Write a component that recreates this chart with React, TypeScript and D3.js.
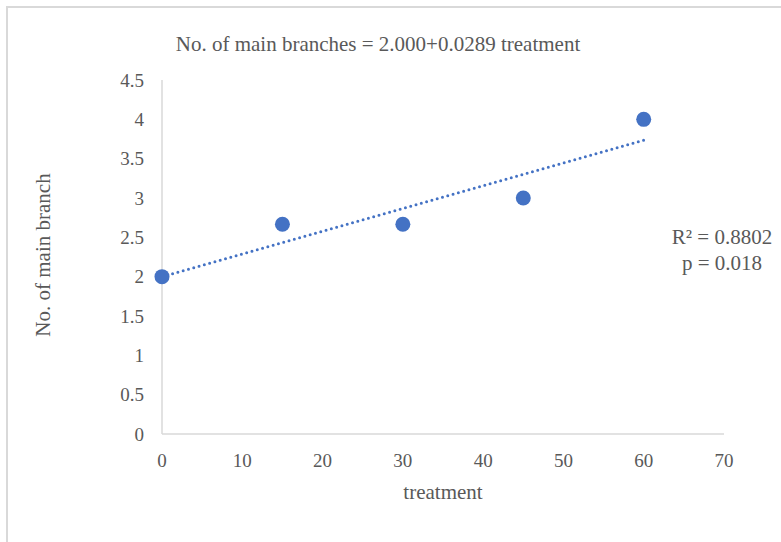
import React from "react";
import * as d3 from "d3";

const treatment = [0, 15, 30, 45, 60];
const branches = [2, 2.667, 2.667, 3, 4];
const yTicks = [0, 0.5, 1, 1.5, 2, 2.5, 3, 3.5, 4, 4.5];
const xTicks = [0, 10, 20, 30, 40, 50, 60, 70];
const intercept = 2.0;
const slope = 0.0289;

export default function App() {
  const W = 781, H = 542;
  const x = d3.scaleLinear().domain([0, 70]).range([162, 724]);
  const y = d3.scaleLinear().domain([0, 4.5]).range([434, 80]);
  const font = "'Liberation Serif', 'Times New Roman', serif";
  const txt = "#595959";
  const line = d3.line<number>().x(d => x(d)).y(d => y(intercept + slope * d));
  return (
    <svg width={W} height={H} style={{ position: "absolute", left: 0, top: 0 }}>
      <rect x={0} y={0} width={W} height={H} fill="#fff" />
      <line x1={6} y1={7} x2={W} y2={7} stroke="#d9d9d9" strokeWidth={2} />
      <line x1={7} y1={6} x2={7} y2={H} stroke="#d9d9d9" strokeWidth={2} />
      <line x1={x(0)} y1={y(4.5)} x2={x(0)} y2={y(0)} stroke="#d9d9d9" strokeWidth={1.5} />
      <line x1={x(0)} y1={y(0)} x2={x(70)} y2={y(0)} stroke="#d9d9d9" strokeWidth={1.5} />
      {yTicks.map(t => (
        <text key={"y" + t} x={x(0) - 18} y={y(t)} dy="0.35em" textAnchor="end" fontFamily={font} fontSize={19} fill={txt}>{t}</text>
      ))}
      {xTicks.map(t => (
        <text key={"x" + t} x={x(t)} y={y(0) + 33} textAnchor="middle" fontFamily={font} fontSize={19} fill={txt}>{t}</text>
      ))}
      <path d={line([0, 60]) || ""} fill="none" stroke="#4472C4" strokeWidth={3} strokeDasharray="0 5.5" strokeLinecap="round" />
      {treatment.map((t, i) => (
        <circle key={"p" + i} cx={x(t)} cy={y(branches[i])} r={7.5} fill="#4472C4" />
      ))}
      <text x={378} y={51} textAnchor="middle" fontFamily={font} fontSize={21} fill={txt}>No. of main branches = 2.000+0.0289 treatment</text>
      <text x={443} y={499} textAnchor="middle" fontFamily={font} fontSize={21} fill={txt}>treatment</text>
      <text transform={`translate(50,255) rotate(-90)`} textAnchor="middle" fontFamily={font} fontSize={21} fill={txt}>No. of main branch</text>
      <text x={722} y={244} textAnchor="middle" fontFamily={font} fontSize={21} fill={txt}>R² = 0.8802</text>
      <text x={722} y={270} textAnchor="middle" fontFamily={font} fontSize={21} fill={txt}>p = 0.018</text>
    </svg>
  );
}
